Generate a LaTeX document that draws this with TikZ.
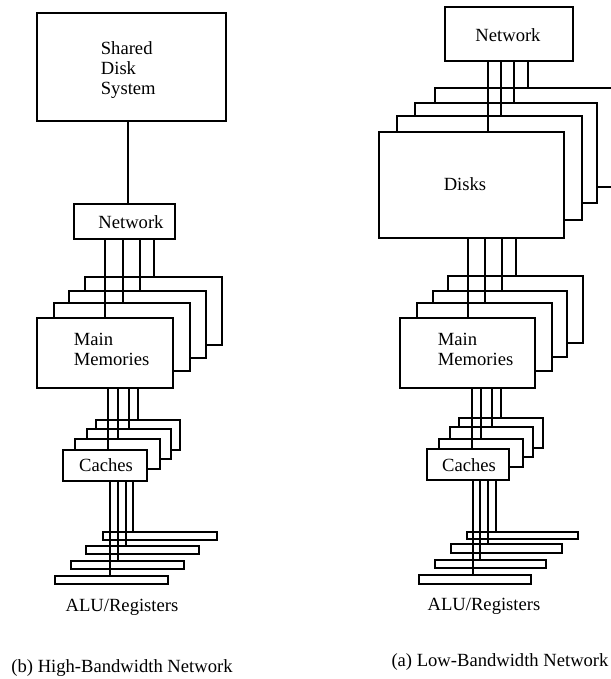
\documentclass[tikz,border=0pt]{standalone}
\usepackage{fontspec}
\setmainfont{Liberation Serif}
\usetikzlibrary{fit}

\begin{document}
\begin{tikzpicture}[x=1pt, y=-1pt, line width=1.8pt]
  \tikzstyle{box} = [draw, fill=white, inner sep=0pt]
  \tikzstyle{lbl} = [inner sep=0pt, align=left, font=\fontsize{18.6}{20}\selectfont]
  \useasboundingbox (0,0) rectangle (610,679);

  % (b) high-bandwidth: one shared disk behind the network
  \node[box, fit={(37,13) (226,121)}] (diskL) {};
  \node[lbl, anchor=west] (diskLtxt) at (100,70) {Shared\\Disk\\System};
  \node[box, fit={(74,204) (175,239)}] (netL) {};
  \node[lbl] (netLtxt) at (131,222) {Network};

  \node[box, fit={(85,277) (222,345)}] (memL4) {};
  \node[box, fit={(69,291) (206,358)}] (memL3) {};
  \node[box, fit={(54,303) (190,371)}] (memL2) {};
  \node[box, fit={(37,318) (173,388)}] (memL1) {};
  \node[lbl, anchor=west] (memLtxt) at (73,349) {Main\\Memories};

  \node[box, fit={(96,420) (180,450)}] (cacL4) {};
  \node[box, fit={(87,429) (171,459)}] (cacL3) {};
  \node[box, fit={(75,439) (160,469)}] (cacL2) {};
  \node[box, fit={(63,450) (147,481)}] (cacL1) {};
  \node[lbl] (cacLtxt) at (106,465) {Caches};

  \node[box, fit={(103,532) (217,540)}] (aluL4) {};
  \node[box, fit={(86,546) (199,554)}] (aluL3) {};
  \node[box, fit={(71,561) (184,569)}] (aluL2) {};
  \node[box, fit={(55,576) (168,584)}] (aluL1) {};
  \node[lbl] (aluLtxt) at (122,607) {ALU/Registers};
  \node[lbl] (capL) at (122,668) {(b) High-Bandwidth Network};

  % (a) low-bandwidth: disks hang off the network
  \node[box, fit={(445,7) (573,61)}] (netR) {};
  \node[lbl] (netRtxt) at (508,35) {Network};

  \node[box, fit={(435,88) (616,187)}] (diskR4) {};
  \node[box, fit={(415,103) (597,203)}] (diskR3) {};
  \node[box, fit={(397,116) (582,220)}] (diskR2) {};
  \node[box, fit={(379,132) (564,238)}] (diskR1) {};
  \node[lbl] (diskRtxt) at (465,184) {Disks};

  \node[box, fit={(448,276) (583,343)}] (memR4) {};
  \node[box, fit={(433,291) (567,357)}] (memR3) {};
  \node[box, fit={(417,303) (552,371)}] (memR2) {};
  \node[box, fit={(400,318) (535,388)}] (memR1) {};
  \node[lbl, anchor=west] (memRtxt) at (437,349) {Main\\Memories};

  \node[box, fit={(459,418) (543,448)}] (cacR4) {};
  \node[box, fit={(450,427) (533,457)}] (cacR3) {};
  \node[box, fit={(439,439) (523,467)}] (cacR2) {};
  \node[box, fit={(427,449) (509,480)}] (cacR1) {};
  \node[lbl] (cacRtxt) at (469,465) {Caches};

  \node[box, fit={(467,532) (578,539)}] (aluR4) {};
  \node[box, fit={(451,544) (562,553)}] (aluR3) {};
  \node[box, fit={(435,560) (546,568)}] (aluR2) {};
  \node[box, fit={(419,575) (531,584)}] (aluR1) {};
  \node[lbl] (aluRtxt) at (484,606) {ALU/Registers};
  \node[lbl] (capR) at (500,662) {(a) Low-Bandwidth Network};

  % connections, one vertical wire per layer below
  \draw (128,0 |- diskL.south) -- (128,0 |- netL.north);
  \foreach \x/\a/\b in {105/netL/memL1, 123/netL/memL2, 140/netL/memL3, 154/netL/memL4,
                        108/memL1/cacL1, 118/memL1/cacL2, 129/memL1/cacL3, 138/memL1/cacL4,
                        110/cacL1/aluL1, 118/cacL1/aluL2, 126/cacL1/aluL3, 133/cacL1/aluL4,
                        488/netR/diskR1, 501/netR/diskR2, 514/netR/diskR3, 528/netR/diskR4,
                        468/diskR1/memR1, 485/diskR1/memR2, 502/diskR1/memR3, 516/diskR1/memR4,
                        472/memR1/cacR1, 481/memR1/cacR2, 492/memR1/cacR3, 501/memR1/cacR4,
                        473/cacR1/aluR1, 480/cacR1/aluR2, 488/cacR1/aluR3, 496/cacR1/aluR4}
    \draw (\x,0 |- \a.south) -- (\x,0 |- \b.north);
\end{tikzpicture}
\end{document}
